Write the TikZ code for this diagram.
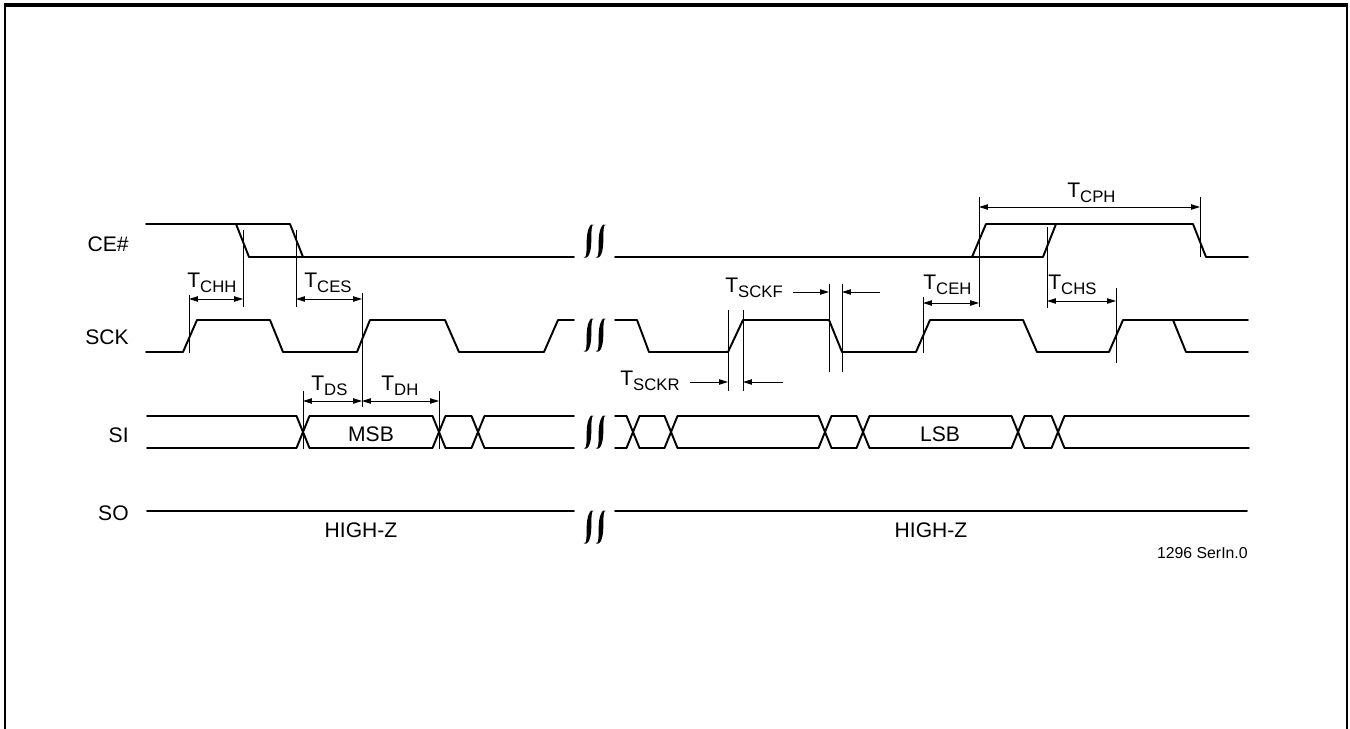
\documentclass[tikz,border=0pt]{standalone}
\usepackage{fontspec}
\setmainfont{Liberation Sans}
\usetikzlibrary{arrows.meta}
\newcommand{\tsub}[1]{T\raisebox{-2.8pt}{\fontsize{9.5}{10}\selectfont #1}}

\begin{document}
\begin{tikzpicture}[x=0.02cm,y=-0.02cm,
  sig/.style={line width=1.1pt,line cap=round,line join=round},
  vline/.style={line width=0.55pt},
  dimarr/.style={line width=0.55pt,{Triangle[length=5pt,width=3pt]}-{Triangle[length=5pt,width=3pt]}},
  onearr/.style={line width=0.55pt,-{Triangle[length=5pt,width=3pt]}},
  lab/.style={inner sep=0pt,anchor=base west,font=\fontsize{12}{14}\selectfont},
  siglab/.style={inner sep=0pt,anchor=east,font=\fontsize{12}{14}\selectfont},
  txt/.style={inner sep=0pt,font=\fontsize{12}{14}\selectfont},
  brk/.pic={
    \fill[shift={(-6,0)}] (5.5,-16) .. controls (1,-19.5) and (-2.3,-10) .. (-2.3,0) .. controls (-2.3,10) and (-2.5,18.5) .. (-5.5,16) .. controls (-0.5,19.5) and (2.3,10) .. (2.3,0) .. controls (2.3,-10) and (2.5,-18.5) .. cycle;
    \fill[shift={(6,0)}] (5.5,-16) .. controls (1,-19.5) and (-2.3,-10) .. (-2.3,0) .. controls (-2.3,10) and (-2.5,18.5) .. (-5.5,16) .. controls (-0.5,19.5) and (2.3,10) .. (2.3,0) .. controls (2.3,-10) and (2.5,-18.5) .. cycle;
  }]
\useasboundingbox (0,0) rectangle (1350,729);
\draw[line width=1.1pt] (5,729) -- (5,5) -- (1347,5) -- (1347,729);
\draw[line width=1.8pt] (4,5) -- (1348,5);

\node (lCE) at (129,244) [siglab] {CE\#};
\node (lSCK) at (129,337) [siglab] {SCK};
\node (lSI) at (129,435) [siglab] {SI};
\node (lSO) at (129,513) [siglab] {SO};

\draw[sig] (146,224) -- (290,224) -- (303,257);
\draw[sig] (236,224) -- (249,257) -- (574,257);
\draw[sig] (615,257) -- (972,257) -- (986,224) -- (1193,224) -- (1206,257) -- (1248,257);
\draw[sig] (787,257) -- (1043,257) -- (1056,224);

\draw[sig] (146,352) -- (183,352) -- (197,320) -- (270,320) -- (283,352) -- (357,352) -- (370,320) -- (445,320) -- (459,352) -- (544,352) -- (558,320) -- (574,320);
\draw[sig] (615,320) -- (637,320) -- (649,352) -- (728,352) -- (743,320) -- (829,320) -- (842,352) -- (916,352) -- (930,320) -- (1023,320) -- (1037,352) -- (1109,352) -- (1123,320) -- (1248,320);
\draw[sig] (1173,320) -- (1186,352) -- (1248,352);

\draw[sig] (147,416) -- (296.5,416) -- (309.5,448) -- (432.5,448) -- (445.5,416) -- (471.5,416) -- (484.5,448) -- (574,448);
\draw[sig] (147,448) -- (296.5,448) -- (309.5,416) -- (432.5,416) -- (445.5,448) -- (471.5,448) -- (484.5,416) -- (574,416);
\draw[sig] (615,416) -- (626.5,416) -- (639.5,448) -- (664.5,448) -- (677.5,416) -- (818.5,416) -- (831.5,448) -- (856.5,448) -- (869.5,416) -- (1011.5,416) -- (1024.5,448) -- (1051.5,448) -- (1064.5,416) -- (1249,416);
\draw[sig] (615,448) -- (626.5,448) -- (639.5,416) -- (664.5,416) -- (677.5,448) -- (818.5,448) -- (831.5,416) -- (856.5,416) -- (869.5,448) -- (1011.5,448) -- (1024.5,416) -- (1051.5,416) -- (1064.5,448) -- (1249,448);
\node (msb) at (371,434) [txt] {MSB};
\node (lsb) at (940,434) [txt] {LSB};

\draw[sig] (147,511) -- (574,511);
\draw[sig] (615,511) -- (1247,511);
\node (hz1) at (361,530) [txt] {HIGH-Z};
\node (hz2) at (931,530) [txt] {HIGH-Z};
\node (fig) at (1248,553) [anchor=east,inner sep=0pt,font=\fontsize{9}{10}\selectfont] {1296 SerIn.0};

\pic at (595,241) {brk};
\pic at (595,335) {brk};
\pic at (595,432) {brk};
\pic at (595,527) {brk};

\draw[vline] (189,295) -- (189,353);
\draw[vline] (243,230) -- (243,307);
\draw[vline] (296,230) -- (296,307);
\draw[vline] (362,293) -- (362,407);
\draw[vline] (303,391) -- (303,449);
\draw[vline] (439,391) -- (439,449);
\draw[vline] (728,310) -- (728,391);
\draw[vline] (743,310) -- (743,391);
\draw[vline] (829,284) -- (829,372);
\draw[vline] (842,284) -- (842,372);
\draw[vline] (923,297) -- (923,353);
\draw[vline] (979,197) -- (979,307);
\draw[vline] (1047,227) -- (1047,308);
\draw[vline] (1116,288) -- (1116,363);
\draw[vline] (1200,197) -- (1200,257);

\coordinate (chh1) at (189,299);
\coordinate (chh2) at (243,299);
\coordinate (ces1) at (296,299);
\coordinate (ces2) at (362,299);
\coordinate (ds1) at (303,401);
\coordinate (ds2) at (362,401);
\coordinate (dh2) at (439,401);
\coordinate (ckf1) at (793,292);
\coordinate (ckf2) at (829,292);
\coordinate (ckf3) at (880,292);
\coordinate (ckf4) at (842,292);
\coordinate (ckr1) at (690,382);
\coordinate (ckr2) at (728,382);
\coordinate (ckr3) at (783,382);
\coordinate (ckr4) at (743,382);
\coordinate (ceh1) at (923,303);
\coordinate (ceh2) at (979,303);
\coordinate (chs1) at (1047,301);
\coordinate (chs2) at (1116,301);
\coordinate (cph1) at (979,207);
\coordinate (cph2) at (1200,207);

\draw[dimarr] (chh1) -- (chh2);
\draw[dimarr] (ces1) -- (ces2);
\draw[dimarr] (ds1) -- (ds2);
\draw[dimarr] (ds2) -- (dh2);
\draw[onearr] (ckf1) -- (ckf2);
\draw[onearr] (ckf3) -- (ckf4);
\draw[onearr] (ckr1) -- (ckr2);
\draw[onearr] (ckr3) -- (ckr4);
\draw[dimarr] (ceh1) -- (ceh2);
\draw[dimarr] (chs1) -- (chs2);
\draw[dimarr] (cph1) -- (cph2);

\node (tCHH) at (187,288) [lab] {\tsub{CHH}};
\node (tCES) at (304,288) [lab] {\tsub{CES}};
\node (tDS) at (311,391) [lab] {\tsub{DS}};
\node (tDH) at (381,391) [lab] {\tsub{DH}};
\node (tSCKF) at (725,293) [lab] {\tsub{SCKF}};
\node (tSCKR) at (620,386) [lab] {\tsub{SCKR}};
\node (tCEH) at (923,290) [lab] {\tsub{CEH}};
\node (tCHS) at (1048,290) [lab] {\tsub{CHS}};
\node (tCPH) at (1067,198) [lab] {\tsub{CPH}};
\end{tikzpicture}
\end{document}
